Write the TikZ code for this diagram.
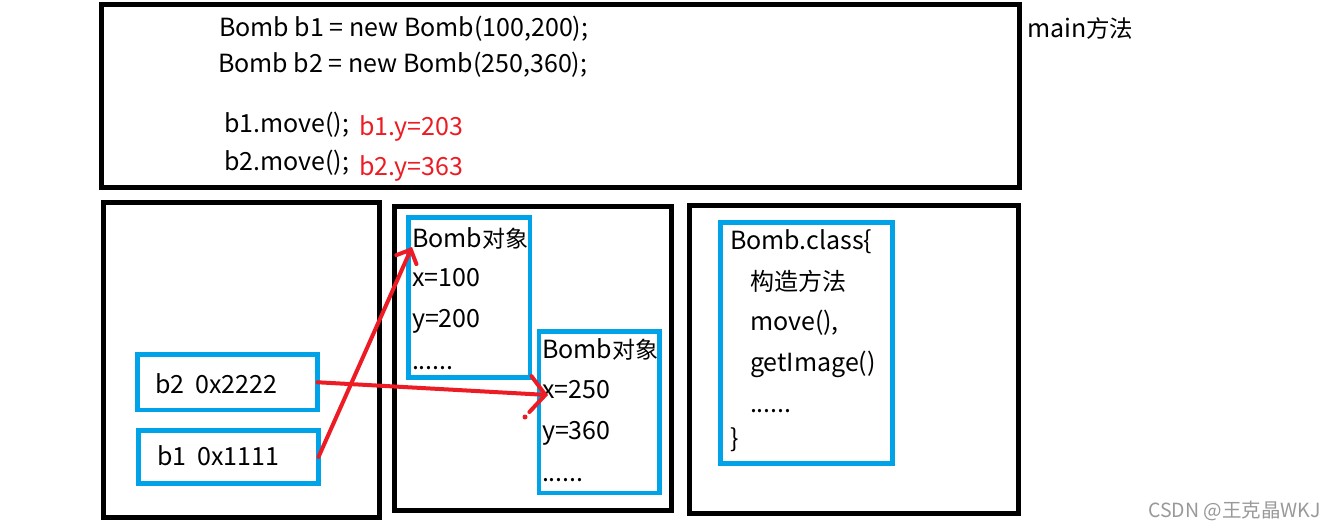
\documentclass[tikz,border=0pt]{standalone}
\usepackage{fontspec}
\setmainfont{Noto Sans CJK SC}
\usetikzlibrary{arrows.meta}
\definecolor{pblue}{HTML}{00A2E8}
\definecolor{pred}{HTML}{ED1C24}
\begin{document}
\begin{tikzpicture}[x=1pt,y=-1pt,
  frame/.style={draw=black,line width=5pt,inner sep=0pt,outer sep=0pt},
  bluebox/.style={draw=pblue,line width=4.5pt,inner sep=0pt,outer sep=0pt},
  txt/.style={anchor=base west,inner sep=0pt,outer sep=0pt,font=\fontsize{25}{30}\selectfont},
  redtxt/.style={txt,text=pred},
  ptr/.style={draw=pred,line width=4pt,line cap=round,-{Straight Barb[length=11pt,width=22pt,line cap=round]}}]
\useasboundingbox[fill=white] (0,0) rectangle (1329,530);

% frames
\node[frame,minimum width=918pt,minimum height=183pt] (mainbox) at (560.5,96) {};
\node[frame,minimum width=276pt,minimum height=314.5pt] (stack) at (241.5,359.75) {};
\node[frame,minimum width=277pt,minimum height=304pt] (heap) at (533,358) {};
\node[frame,minimum width=329pt,minimum height=307.5pt] (method) at (854,359.25) {};

% main method text
\node[txt] (l1) at (219,36) {Bomb b1 = new Bomb(100,200);};
\node[txt] (l2) at (218,72) {Bomb b2 = new Bomb(250,360);};
\node[txt] (l3) at (224,132) {b1.move();};
\node[redtxt] (r1) at (359,135) {b1.y=203};
\node[txt] (l4) at (224,170) {b2.move();};
\node[redtxt] (r2) at (359,175) {b2.y=363};
\node[txt] (mainlbl) at (1027,37) {main\fontsize{23.5}{30}\selectfont 方法};

% stack
\node[bluebox,minimum width=180pt,minimum height=55.5pt] (b2) at (227.5,382.25) {};
\node[txt] (b2t) at (155,393) {b2\ \ 0x2222};
\node[bluebox,minimum width=180pt,minimum height=53pt] (b1) at (228.5,457) {};
\node[txt] (b1t) at (157,465) {b1\ \ 0x1111};

% heap objects
\node[bluebox,minimum width=121.5pt,minimum height=160pt] (obj1) at (469.25,297.5) {};
\node[txt] (o1a) at (412,247) {Bomb\fontsize{23}{30}\selectfont 对象};
\node[txt] (o1b) at (412,286) {x=100};
\node[txt] (o1c) at (412,327) {y=200};
\node[txt] (o1d) at (412,369) {......};

\node[bluebox,minimum width=120.5pt,minimum height=161.5pt] (obj2) at (599.25,412.25) {};
\node[txt] (o2a) at (542,358) {Bomb\fontsize{23}{30}\selectfont 对象};
\node[txt] (o2b) at (542,398) {x=250};
\node[txt] (o2c) at (542,439) {y=360};
\node[txt] (o2d) at (542,481) {......};

% class
\node[bluebox,minimum width=172pt,minimum height=241pt] (cls) at (806.5,343) {};
\node[txt] (c1) at (730,249) {Bomb.class\{};
\node[txt] (c2) at (750,290) {\fontsize{24}{30}\selectfont 构造方法};
\node[txt] (c3) at (750,330) {move(),};
\node[txt] (c4) at (750,371) {getImage()};
\node[txt] (c5) at (750,412) {......};
\node[txt] (c6) at (730,447) {\}};

% pointers
\coordinate (t1) at (412,247);
\coordinate (t2) at (548,395);
\draw[ptr] (b1.east) -- (t1);
\draw[ptr,-{Straight Barb[length=15pt,width=36pt,line cap=round]}] (b2.east) -- (t2);
\fill[pred] (525,417) circle (2.5);

% watermark
\node[anchor=base west,inner sep=0pt,text=gray!80,font=\fontsize{19.5}{22}\selectfont] (wm) at (1148,517) {CSDN @王克晶WKJ};
\end{tikzpicture}
\end{document}
